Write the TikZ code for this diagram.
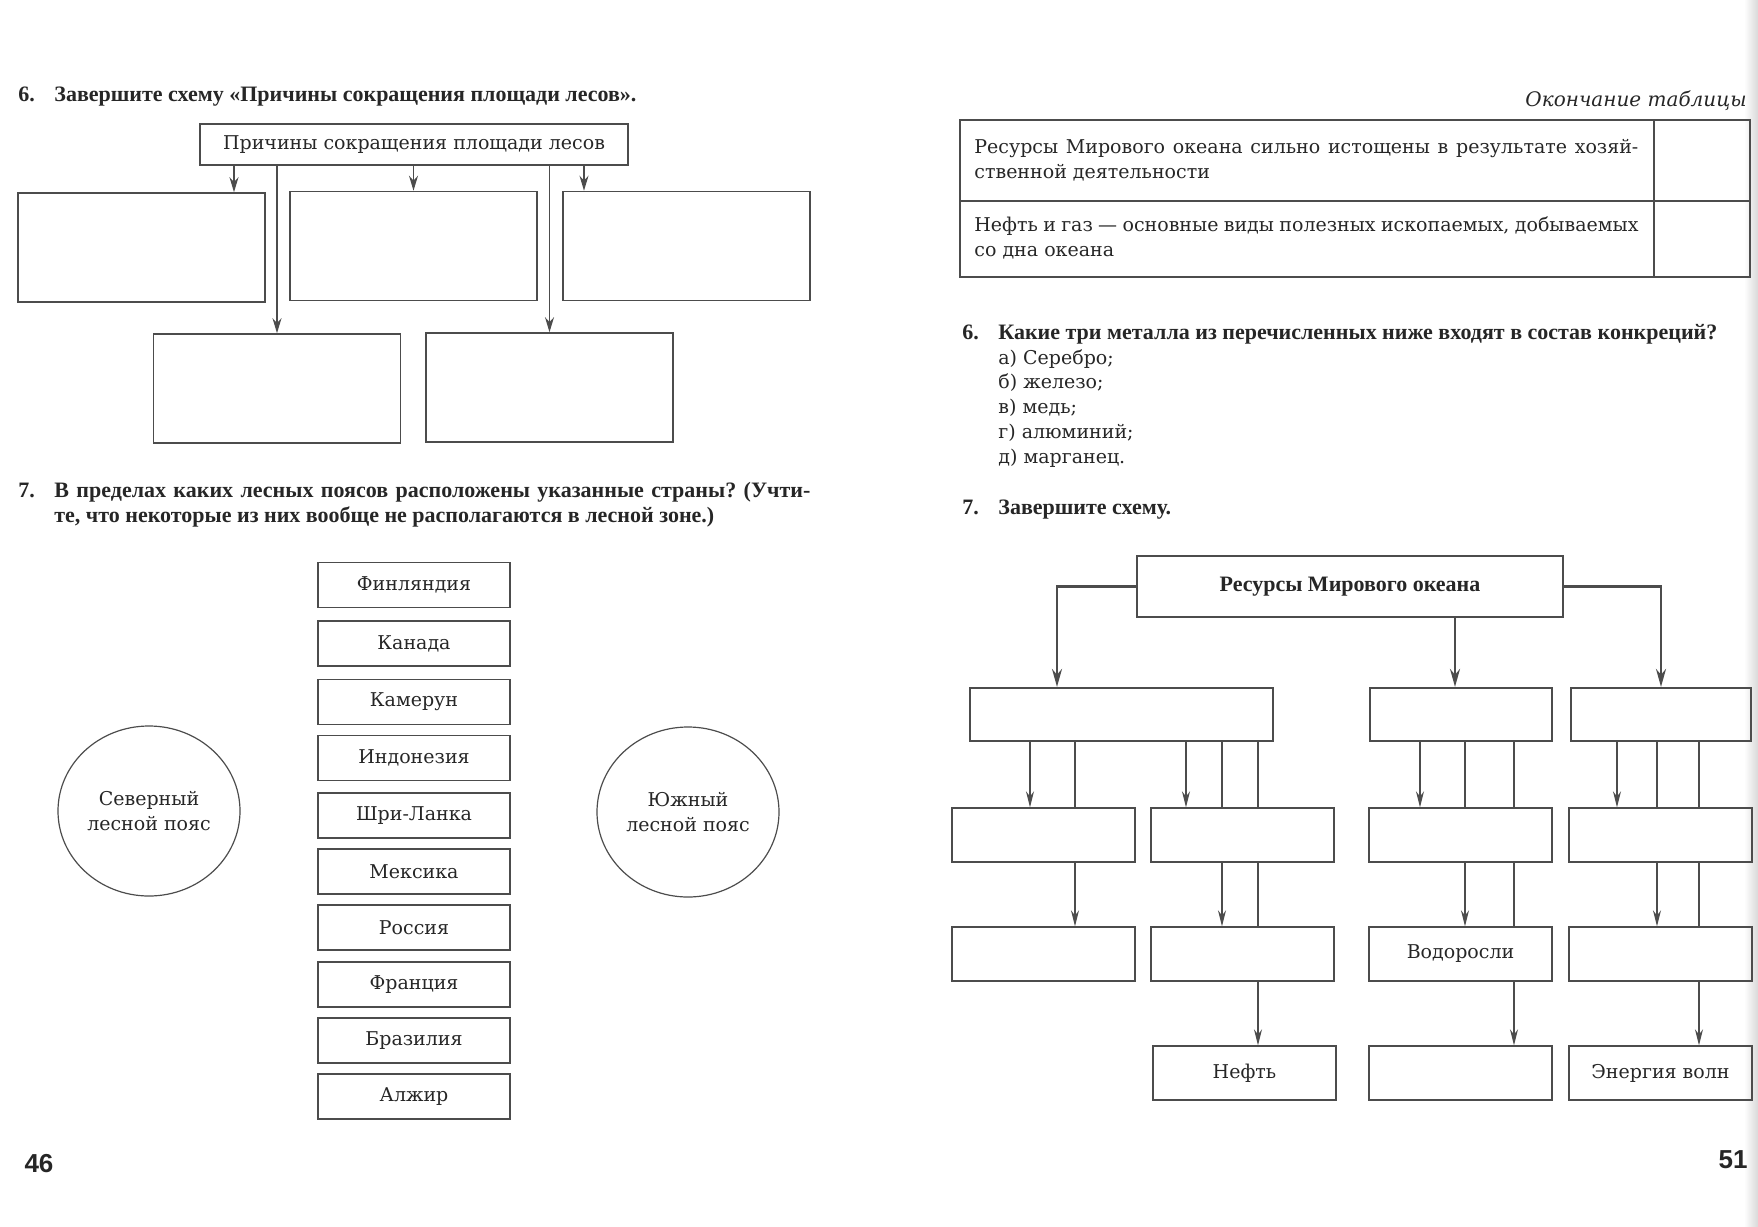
\documentclass[tikz,border=0pt]{standalone}
\usepackage{fontspec}
\setmainfont{DejaVu Serif}
\setsansfont{Liberation Sans}
\newfontfamily\headfont{Liberation Serif}
\usetikzlibrary{arrows.meta,shapes.geometric}
\definecolor{ink}{gray}{0.15}
\definecolor{rule}{gray}{0.3}
\newcommand\bodysize{\fontsize{9.5}{12.3}\selectfont}
\newcommand\headsize{\headfont\bfseries\fontsize{11}{12.3}\selectfont}
\frenchspacing

\begin{document}
\begin{tikzpicture}[x=0.5pt, y=-0.5pt,
  every node/.style={text=ink, inner sep=0pt},
  txtline/.style={anchor=base west, font=\bodysize},
  hline/.style={anchor=base west, font=\headsize},
  cell/.style={draw=rule, line width=0.8pt, minimum width=123.5pt, minimum height=54.5pt},
  land/.style={draw=rule, line width=0.9pt, minimum width=96pt, minimum height=22.5pt, font=\bodysize},
  belt/.style={draw=rule, line width=0.6pt, ellipse, minimum width=91pt, minimum height=85pt, align=center, font=\fontsize{9.5}{12.9}\selectfont},
  bigbox/.style={draw=rule, line width=1.1pt, minimum height=26.5pt},
  leaf/.style={draw=rule, line width=0.7pt, minimum width=91.5pt, minimum height=27pt, font=\bodysize},
  arr/.style={-{Stealth[length=8pt, width=4pt]}}
]
\useasboundingbox (0,0) rectangle (1758,1227);
\shade[left color=white, right color=gray!30] (1744,0) rectangle (1758,1227);

% page 46, task 6
\node[hline] (n6) at (18,101) {6.};
\node[hline] (t6) at (54,101) {Завершите схему «Причины сокращения площади лесов».};

\node[draw=rule, line width=0.8pt, minimum width=214pt, minimum height=20.5pt, font=\bodysize] (cause) at (414,144.5) {Причины сокращения площади лесов};
\node[cell] (c1) at (141.5,247.5) {};
\node[cell] (c2) at (413.5,246) {};
\node[cell] (c3) at (686.5,246) {};
\node[cell] (c4) at (277,388.5) {};
\node[cell] (c5) at (549.5,387.5) {};

\begin{scope}[line width=0.6pt, draw=rule, -{Stealth[length=7.5pt, width=4.5pt]}]
\draw (cause.south -| 234,0) -- (c1.north -| 234,0);
\draw (cause.south -| c2.north) -- (c2.north);
\draw (cause.south -| 584,0) -- (c3.north -| 584,0);
\draw (cause.south -| c4.north) -- (c4.north);
\draw (cause.south -| c5.north) -- (c5.north);
\end{scope}

% page 46, task 7
\node[hline] (n7) at (18,497) {7.};
\node[hline] (t7a) at (54,497) {\makebox[378pt][s]{В пределах каких лесных поясов расположены указанные страны? (Учти-}};
\node[hline] (t7b) at (54,522) {те, что некоторые из них вообще не располагаются в лесной зоне.)};

\node[land] (fin) at (414,585) {Финляндия};
\node[land] (kan) at (414,643.6) {Канада};
\node[land] (kam) at (414,701.9) {Камерун};
\node[land] (ind) at (414,757.9) {Индонезия};
\node[land] (shr) at (414,815.1) {Шри-Ланка};
\node[land] (mex) at (414,871.2) {Мексика};
\node[land] (ros) at (414,927.2) {Россия};
\node[land] (fra) at (414,984.4) {Франция};
\node[land] (bra) at (414,1040.5) {Бразилия};
\node[land] (alg) at (414,1096.5) {Алжир};

\node[belt] (north) at (149,811) {Северный\\лесной пояс};
\node[belt] (south) at (688,812) {Южный\\лесной пояс};

\node[font=\sffamily\bfseries\fontsize{13}{13}\selectfont] (pl) at (39,1164) {46};

% page 51, table
\node[anchor=base east, font=\itshape\fontsize{10}{12}\selectfont] (tend) at (1747,106) {Окончание таблицы};
\begin{scope}[draw=rule, line width=0.8pt]
\draw (960,120) rectangle (1750,277);
\draw (960,201) -- (1750,201);
\draw (1654,120) -- (1654,277);
\end{scope}
\node[txtline] (r1a) at (974,153) {\makebox[332pt][s]{Ресурсы Мирового океана сильно истощены в результате хозяй-}};
\node[txtline] (r1b) at (974,178) {ственной деятельности};
\node[txtline] (r2a) at (974,231) {\makebox[332pt][s]{Нефть и газ — основные виды полезных ископаемых, добываемых}};
\node[txtline] (r2b) at (974,256) {со дна океана};

% page 51, task 6
\node[hline] (m6) at (962,339) {6.};
\node[hline] (s6) at (998,339) {Какие три металла из перечисленных ниже входят в состав конкреций?};
\node[txtline] (la) at (998,364) {а) Серебро;};
\node[txtline] (lb) at (998,388) {б) железо;};
\node[txtline] (lc) at (998,413) {в) медь;};
\node[txtline] (ld) at (998,438) {г) алюминий;};
\node[txtline] (le) at (998,463) {д) марганец.};

% page 51, task 7
\node[hline] (m7) at (962,514) {7.};
\node[hline] (s7) at (998,514) {Завершите схему.};

\node[bigbox, minimum width=213pt, minimum height=30.5pt, font=\headsize] (res) at (1350,586.5) {Ресурсы Мирового океана};
\node[bigbox, minimum width=151.5pt] (ra) at (1121.5,714.5) {};
\node[bigbox, minimum width=91pt] (rb) at (1461,714.5) {};
\node[bigbox, minimum width=90pt] (rc) at (1661,714.5) {};

\node[leaf] (rd) at (1043.5,835) {};
\node[leaf] (re) at (1242.5,835) {};
\node[leaf] (rf) at (1460.5,835) {};
\node[leaf] (rg) at (1660.5,835) {};

\node[leaf] (rh) at (1043.5,954) {};
\node[leaf] (ri) at (1242.5,954) {};
\node[leaf] (rj) at (1460.5,954) {Водоросли};
\node[leaf] (rk) at (1660.5,954) {};

\node[leaf] (rl) at (1244.5,1073) {Нефть};
\node[leaf] (rm) at (1460.5,1073) {};
\node[leaf] (rn) at (1660.5,1073) {Энергия волн};

\begin{scope}[line width=1.1pt, draw=rule, -{Stealth[length=9pt, width=5pt]}]
\draw (res.west) -| (ra.north -| 1057,0);
\draw (res.south -| 1455,0) -- (rb.north -| 1455,0);
\draw (res.east) -| (rc.north);
\end{scope}

\begin{scope}[line width=0.6pt, draw=rule]
% first branch
\draw[arr] (ra.south -| 1030,0) -- (rd.north -| 1030,0);
\draw (ra.south -| 1075,0) -- (rd.north -| 1075,0);
\draw[arr] (rd.south -| 1075,0) -- (rh.north -| 1075,0);
\draw[arr] (ra.south -| 1186,0) -- (re.north -| 1186,0);
\draw (ra.south -| 1222,0) -- (re.north -| 1222,0);
\draw[arr] (re.south -| 1222,0) -- (ri.north -| 1222,0);
\draw (ra.south -| 1258,0) -- (re.north -| 1258,0);
\draw (re.south -| 1258,0) -- (ri.north -| 1258,0);
\draw[arr] (ri.south -| 1258,0) -- (rl.north -| 1258,0);
% second branch
\draw[arr] (rb.south -| 1420,0) -- (rf.north -| 1420,0);
\draw (rb.south -| 1465,0) -- (rf.north -| 1465,0);
\draw[arr] (rf.south -| 1465,0) -- (rj.north -| 1465,0);
\draw (rb.south -| 1514,0) -- (rf.north -| 1514,0);
\draw (rf.south -| 1514,0) -- (rj.north -| 1514,0);
\draw[arr] (rj.south -| 1514,0) -- (rm.north -| 1514,0);
% third branch
\draw[arr] (rc.south -| 1617,0) -- (rg.north -| 1617,0);
\draw (rc.south -| 1657,0) -- (rg.north -| 1657,0);
\draw[arr] (rg.south -| 1657,0) -- (rk.north -| 1657,0);
\draw (rc.south -| 1699,0) -- (rg.north -| 1699,0);
\draw (rg.south -| 1699,0) -- (rk.north -| 1699,0);
\draw[arr] (rk.south -| 1699,0) -- (rn.north -| 1699,0);
\end{scope}

\node[font=\sffamily\bfseries\fontsize{13}{13}\selectfont] (pr) at (1733,1160) {51};
\end{tikzpicture}
\end{document}
